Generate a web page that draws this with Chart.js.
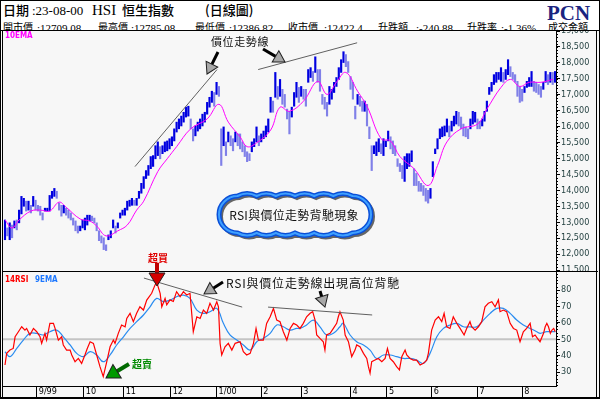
<!DOCTYPE html>
<html>
<head>
<meta charset="utf-8">
<script src="https://cdn.jsdelivr.net/npm/chart.js@4.4.0/dist/chart.umd.min.js"></script>
<style>
  body { margin: 0; background: #f7f7f7; }
  #wrap { position: relative; width: 600px; height: 399px; overflow: hidden; background: #f7f7f7; }
  #wrap canvas { position: absolute; left: 0; top: 0; }
  #priceChart { z-index: 1; }
  #rsiChart { z-index: 2; }
  #header { position: absolute; left: 0; top: 0; width: 600px; height: 30px; background: #fff;
            border-bottom: 1px solid #000; overflow: hidden; z-index: 3; }
  #header span { position: absolute; white-space: pre; color: #000; }
  .t1 { top: 2px; font: 500 13px "Noto Sans CJK TC"; line-height: 16px; }
  .n1 { top: 3px; font: 13px "Liberation Serif"; line-height: 16px; }
  .h1 { top: 2px; font: 15px "Liberation Serif"; line-height: 16px; }
  .t2 { top: 20px; font: 10px "Noto Sans CJK TC"; line-height: 14px; }
  .n2 { top: 21px; font: 11px "Liberation Serif"; line-height: 14px; }
  #pcn { top: 1px; left: 547px; font: bold 21px "Liberation Serif"; color: #1a2480 !important; line-height: 24px; }
  #frame { position: absolute; left: 0; top: 0; width: 600px; height: 399px; box-sizing: border-box;
           border: 1px solid #000; z-index: 4; pointer-events: none; }
</style>
</head>
<body>
<div id="wrap">
  <canvas id="priceChart" width="600" height="399"></canvas>
  <canvas id="rsiChart" width="600" height="399"></canvas>
  <div id="header">
    <span class="t1" style="left:3px">日期</span><span class="n1" style="left:32px">:23-08-00</span>
    <span class="h1" style="left:92px">HSI</span><span class="t1" style="left:122px">恒生指數</span>
    <span class="t1" style="left:205px">(日線圖)</span>
    <span class="t2" style="left:3px">開市價</span><span class="n2" style="left:37px">:12709.08</span>
    <span class="t2" style="left:98px">最高價</span><span class="n2" style="left:131px">:12785.08</span>
    <span class="t2" style="left:195px">最低價</span><span class="n2" style="left:229px">:12386.82</span>
    <span class="t2" style="left:288px">收市價</span><span class="n2" style="left:324px">:12422.4</span>
    <span class="t2" style="left:378px">升跌額</span><span class="n2" style="left:416px">:-240.88</span>
    <span class="t2" style="left:467px">升跌率</span><span class="n2" style="left:501px">:-1.36%</span>
    <span class="t2" style="left:548px">成交金額</span>
    <span id="pcn">PCN</span>
  </div>
  <div id="frame"></div>
</div>
<script>
// 每日最高 / 最低 (恒生指數)
const highs = [13070,12820,12980,12910,13040,13070,13380,13810,13750,13660,13660,13530,13810,13690,13530,13500,13290,13440,13440,13840,
  13970,14060,13970,13600,13530,13530,13440,13380,13290,13130,13040,12880,12880,13070,13130,13220,13220,13190,13130,12980,
  12730,12570,12510,12290,12600,12730,13070,12880,12980,13290,13380,13440,13660,13690,13750,13690,13750,13970,14220,14430,
  14620,14780,15060,15090,15400,15520,15370,15400,15520,15550,15620,15680,15930,16140,16240,16330,16450,16610,16640,16240,
  15930,16020,16140,16240,16390,16450,16760,16920,17110,17070,17390,17260,15930,15990,15520,15830,15710,15620,15830,15770,
  15770,15520,15400,15210,15150,15520,15620,15990,15710,15770,15860,16020,16240,16920,16800,17700,17260,17480,17170,17010,
  16550,16480,16610,17070,17390,17230,17260,17170,17170,17790,17850,17730,18190,17790,17790,17010,16920,16760,17260,17170,
  17390,17540,17850,18100,18350,18260,18040,17570,17390,16640,17010,16950,16800,16800,16700,15990,15400,15400,15520,15620,
  15460,15620,15550,15860,15680,15550,15400,14990,14840,14780,15060,15150,15150,15240,14680,14530,14280,14220,14150,14060,
  14000,14060,14900,15300,15620,15930,15990,16020,16240,16020,16170,16330,16480,16450,16300,16080,15990,15930,16240,16480,
  16450,16240,16170,16240,16480,16800,17230,17390,17630,17700,17700,17850,17700,17790,18100,17880,17700,17630,17420,17260,
  17170,17260,17420,17540,17730,17420,17390,17320,17260,17390,17730,17630,17700,17700,17730];
const lows = [12450,12570,12450,12510,12820,12760,12980,13260,13500,13350,13380,13290,13500,13380,13350,13220,13070,13350,13350,13350,
  13750,13810,13750,13380,13190,13290,13220,13130,13070,12910,12730,12660,12730,12820,12760,12910,13040,13040,12980,12730,
  12420,12350,12140,12110,12450,12510,12820,12660,12820,13130,13220,13220,13380,13500,13530,13530,13530,13750,13910,14060,
  14370,14470,14680,14750,14990,15090,14990,15150,15210,15240,15300,15400,15550,15830,15930,16020,16140,16300,16330,15930,
  15550,15710,15860,15930,16020,16140,16390,16610,16760,16640,17010,16950,14780,15400,15090,15520,15400,15240,15520,15400,
  15300,15210,15060,14900,14930,15210,15370,15520,15400,15520,15620,15680,15830,16450,16450,16920,16860,16950,16700,16610,
  16240,15770,16300,16640,16920,16760,16950,16860,16640,17390,17540,17420,17700,17390,17110,16700,16550,16330,16700,16860,
  17070,17260,17480,17700,18010,17880,17700,17170,16860,16240,16700,16640,16480,16480,16020,15620,14620,15150,15090,15210,
  15150,15090,15370,15550,15300,15150,15090,14750,14590,14370,14280,14680,14750,14900,14150,14150,13970,13970,13840,13660,
  13600,13750,14430,15150,15300,15620,15680,15710,15830,15680,15860,16020,16080,16020,15930,15710,15680,15620,15930,16080,
  16140,15930,15930,16020,16170,16480,17010,17110,17320,17390,17480,17420,17390,17480,17630,17570,17480,17390,16950,16760,
  16800,17070,17230,17260,17260,17110,17070,17010,16920,17170,17390,17320,17390,17320,17390];

// 10EMA (交易日序號, 指數)
const emaDay = [0,3,6,11,15,19,23,26,32,36,39,43,48,52,56,59,65,69,73,79,86,91,95,100,103,107,113,117,121,127,133,137,141,145,150,154,160,164,168,174,180,184,188,194,201,205,211,215,219,223,228,233];
const emaVal = [13070,12820,13070,13350,13380,13350,13630,13470,13100,13040,12880,12570,12730,12910,13380,13660,14590,14990,15370,15930,16240,16700,16140,15680,15370,15490,15890,16610,16480,16800,17420,17010,17390,17700,17110,16640,15620,15550,15060,14680,14150,14780,15520,15930,16080,16550,17230,17480,17260,17390,17390,17480];

// 14RSI
const rsiDay = [0,0.7,2.1,3.5,4.3,5.7,7.1,8.5,9.2,10.6,12.1,13.5,14.9,15.6,17,17.7,19.1,20.6,21.3,22.7,24.1,24.8,26.2,27.7,28.4,29.8,31.2,32.6,34,35,
  36.2,37.6,39,40.4,41.8,43.3,44.7,46.1,46.8,48.2,49.6,51.1,51.8,53.2,54.6,56,57.4,58.9,60.3,62.4,63.8,64.5,66,66.7,68.1,68.8,70.2,71.6,73,74.5,
  75.9,77.3,78.7,80.1,81.6,83,84.4,85.8,87.2,88.7,90.1,90.8,91.5,92.2,93.6,95,96.5,97.9,100,101.4,102.8,104.3,105.7,106.8,107.8,109.9,111.3,112.8,114.2,115.6,
  117,118.4,119.9,121.3,122.7,124.1,125.5,126.9,128.3,129.8,130.9,131.9,132.6,134,135.4,136.1,136.8,138.3,139.7,141.1,141.8,142.5,143.9,144.7,146.1,147.5,
  148.9,149.6,151,152.5,153.9,154.6,155.3,156,157.4,158.8,160.3,161.7,162.7,163.8,165.2,166.6,167.8,168.8,170.2,170.9,172.3,173.7,175.1,176.6,178,179.4,
  180.1,181.5,183,184.4,185.8,186.8,187.9,189.3,190.7,192.2,193.6,195.3,196.4,197.8,198.5,200,201.4,202.8,204.2,205.6,207.1,208.5,209.9,210.6,212,213.4,
  214.9,216.3,217.7,219.1,220.5,221.9,223.4,224.4,225.5,226.5,227.6,229.1,229.8,230.5,231.2,232,232.7,233.4,234.1];
const rsiVal = [34.3,41.4,43.4,44.4,51.5,54.6,57.6,55.6,56.6,52.6,56.6,54.6,51.5,47.5,53.6,49.5,59.7,59.7,56.6,49.5,51.5,46.5,43.4,43.4,40.4,36.3,38.3,35.3,40.4,44.4,
  48.5,47.5,40.4,33.3,27.2,36.3,45.4,49.5,47.5,53.6,58.7,57.6,62.7,65.8,60.7,65.8,69.8,67.8,73.9,78,83,85,78,69.8,74.9,71,74,73,79,76,
  79,77,78,54.6,63.7,62.7,67.8,65.8,71.9,67.8,72.9,69.8,47.5,40.4,45.4,47.5,43.4,47.5,48.5,42.4,40.4,41.4,47.5,56.6,49.5,49.5,59.7,63.7,68.8,61.7,
  60.7,54.6,49.5,56.6,59.7,58.7,56.6,59.7,63.7,65.8,66.8,61.7,52.6,50.5,48.5,43.4,52.6,53.6,56.6,59.7,63.7,66.8,61.7,52.6,48.5,39.4,
  43.4,46.5,45.4,41.4,38.3,33.3,29.3,36.3,37.3,38.3,36.3,38.3,44.4,38.3,36.3,33.3,31.3,39.4,43.4,40.4,38.3,37.3,37.3,34.3,35.3,37.3,
  41.4,55.6,61.7,63.7,60.7,65.8,57.6,56.6,63.7,59.7,56.6,52.6,56.6,60.7,57.6,55.6,57.6,60.7,69.8,71.9,72.9,69.8,74,66.8,67.8,66.8,
  59.7,56.6,55.6,48.5,54.6,56.6,59.7,51.5,52.6,50.5,48.5,53.6,57.6,59.7,57.6,53.6,55.6,56.6,54.6];

// 9EMA of RSI
const sigDay = [0,2.1,5,7.8,10.6,13.5,16.3,19.1,22,24.8,27.7,30.5,33.3,36.2,39,41.8,44.7,47.5,50.4,53.2,56,58.9,61.7,64.5,67.4,70.2,73,75.9,78.7,81.6,
  84.4,87.2,90.1,92.9,95.7,98.6,101.4,104.3,107.1,109.9,112.8,115.6,118.4,121.3,124.1,125.5,128.3,131.2,134,136.8,139.7,142.5,143.9,146.8,149.6,152.5,155.3,158.1,161,163.8,
  166.6,169.5,172.3,175.1,178,180.8,183.7,186.5,189.3,192.2,195,197.8,200.7,203.5,206.4,209.2,212,214.9,217.7,220.5,223.4,226.2,227.7,230.5,234.1];
const sigVal = [42.4,39.4,44.4,49.5,53.6,53.6,52.6,54.6,55.6,51.5,46.5,41.4,39.4,42.4,40.4,36.3,40.4,46.5,51.5,56.6,60.7,64.8,69.8,74.9,72.9,73.9,75.9,76.9,74.9,67.8,
  65.8,66.8,68.8,59.7,52.6,49.5,46.5,43.4,48.5,50.5,53.6,58.7,57.6,55.6,56.6,56.6,58.7,61.7,57.6,52.6,53.6,57.6,59.7,52.6,48.5,46.5,43.4,38.3,40.4,40.4,
  39.4,38.3,38.3,37.3,35.3,41.4,51.5,56.6,58.7,59.7,57.6,57.6,57.6,61.7,65.8,68.8,68.8,65.8,61.7,58.7,56.6,54.6,53.6,54.6,54.6];

// 月份刻度
const monthDay = [13.5,33.5,50.5,70.5,90,109,126,147,162.5,181.5,201,220];
const monthLabels = ['9/99','10','11','12','1/00','2','3','4','5','6','7','8'];

// 走勢線 (交易日序號, 值)
const priceTrend1 = [[55.3,14745],[90.2,17790]];
const priceTrend2 = [[107.7,17790],[149.8,18630]];
const rsiTrend1 = [[59.1,87.3],[100.9,69.6]];
const rsiTrend2 = [[111.9,69.6],[156.2,64.8]];

const BG = '#f7f7f7';
const AXIS_FONT = {family: '"Liberation Sans Narrow", "DejaVu Sans Condensed", sans-serif', size: 9};

function blockArrow(ctx, tx, ty, hx, hy, shaftColor, headColor, shaftW, headW, headL) {
  const ang = Math.atan2(hy - ty, hx - tx);
  const len = Math.hypot(hx - tx, hy - ty);
  ctx.save();
  ctx.translate(tx, ty);
  ctx.rotate(ang);
  ctx.fillStyle = shaftColor;
  ctx.fillRect(0, -shaftW / 2, len - headL + 1, shaftW);
  ctx.beginPath();
  ctx.moveTo(len - headL, -headW / 2);
  ctx.lineTo(len, 0);
  ctx.lineTo(len - headL, headW / 2);
  ctx.closePath();
  ctx.fillStyle = headColor;
  ctx.fill();
  ctx.strokeStyle = '#202020';
  ctx.lineWidth = 1;
  ctx.stroke();
  ctx.restore();
}

function trendLine(ctx, xs, ys, pts, color) {
  ctx.beginPath();
  ctx.moveTo(xs.getPixelForValue(pts[0][0]), ys.getPixelForValue(pts[0][1]));
  ctx.lineTo(xs.getPixelForValue(pts[1][0]), ys.getPixelForValue(pts[1][1]));
  ctx.strokeStyle = color;
  ctx.lineWidth = 1;
  ctx.stroke();
}

function cloudPath(ctx, x0, y0, x1, y1, n) {
  const r = (y1 - y0) / 2, cy = (y0 + y1) / 2;
  const w = (x1 - x0 - 2 * r) / n;
  ctx.beginPath();
  ctx.moveTo(x0 + r, y0);
  for (let i = 0; i < n; i++) ctx.quadraticCurveTo(x0 + r + w * (i + 0.5), y0 - 5, x0 + r + w * (i + 1), y0);
  ctx.arc(x1 - r, cy, r, -Math.PI / 2, Math.PI / 2);
  for (let i = n; i > 0; i--) ctx.quadraticCurveTo(x0 + r + w * (i - 0.5), y1 + 5, x0 + r + w * (i - 1), y1);
  ctx.arc(x0 + r, cy, r, Math.PI / 2, Math.PI * 1.5);
  ctx.closePath();
}

// 副刻度
const minorTicks = {
  id: 'minorTicks',
  afterDraw(chart, args, opts) {
    const s = chart.scales.y, ctx = chart.ctx;
    ctx.save();
    ctx.strokeStyle = '#000';
    ctx.lineWidth = 1;
    for (let v = opts.from; v <= s.max; v += opts.step) {
      const y = Math.round(s.getPixelForValue(v)) + 0.5;
      ctx.beginPath();
      ctx.moveTo(s.left, y);
      ctx.lineTo(s.left + 2, y);
      ctx.stroke();
    }
    ctx.restore();
  }
};

const priceNotes = {
  id: 'priceNotes',
  afterDatasetsDraw(chart) {
    const {ctx, scales: {x, y}} = chart;
    ctx.save();
    ctx.fillStyle = '#ff00ff';
    ctx.font = 'bold 8px "DejaVu Sans Condensed"';
    ctx.textBaseline = 'top';
    ctx.fillText('10EMA', 5, 32);

    trendLine(ctx, x, y, priceTrend1, '#606060');
    trendLine(ctx, x, y, priceTrend2, '#606060');
    blockArrow(ctx, 218, 52, 207, 74, '#000', '#a8a8a8', 3, 13, 11);
    blockArrow(ctx, 263, 49, 285, 62, '#000', '#a8a8a8', 3, 13, 11);

    ctx.fillStyle = '#101010';
    ctx.font = '11px "Noto Sans CJK TC"';
    ctx.letterSpacing = '0.6px';
    ctx.textBaseline = 'middle';
    ctx.fillText('價位走勢線', 211, 42);

    // 背馳說明框
    cloudPath(ctx, 219, 196, 371, 233, 6);
    ctx.fillStyle = BG;
    ctx.fill();
    ctx.save();
    ctx.translate(2, 2);
    cloudPath(ctx, 219, 196, 371, 233, 6);
    ctx.strokeStyle = 'rgba(40,40,40,0.7)';
    ctx.lineWidth = 4;
    ctx.stroke();
    ctx.restore();
    cloudPath(ctx, 219, 196, 371, 233, 6);
    ctx.strokeStyle = '#0a4fd8';
    ctx.lineWidth = 5;
    ctx.stroke();
    ctx.strokeStyle = '#3ea0ff';
    ctx.lineWidth = 2;
    ctx.stroke();
    ctx.fillStyle = '#101010';
    ctx.font = '12px "Noto Sans CJK TC"';
    ctx.letterSpacing = '0.3px';
    ctx.textAlign = 'center';
    ctx.fillText('RSI與價位走勢背馳現象', 294, 215);
    ctx.restore();
  }
};

const rsiNotes = {
  id: 'rsiNotes',
  beforeDraw(chart) {
    const ctx = chart.ctx;
    ctx.save();
    ctx.fillStyle = BG;
    ctx.fillRect(0, 272, 600, 127);
    ctx.restore();
  },
  beforeDatasetsDraw(chart) {
    const {ctx, chartArea: a, scales: {y}} = chart;
    const y50 = y.getPixelForValue(50);
    ctx.save();
    ctx.strokeStyle = '#c4c4c4';
    ctx.lineWidth = 2;
    ctx.beginPath();
    ctx.moveTo(a.left, y50);
    ctx.lineTo(a.right, y50);
    ctx.stroke();
    ctx.restore();
  },
  afterDraw(chart) {
    const {ctx, scales: {x, y}} = chart;
    ctx.save();
    // 框線
    ctx.strokeStyle = '#000';
    ctx.lineWidth = 1;
    ctx.beginPath();
    ctx.moveTo(2, 271.5); ctx.lineTo(598, 271.5);
    ctx.moveTo(2.5, 30); ctx.lineTo(2.5, 397);
    ctx.moveTo(596.5, 30); ctx.lineTo(596.5, 397);
    ctx.moveTo(0, 397.5); ctx.lineTo(600, 397.5);
    ctx.stroke();

    ctx.textBaseline = 'top';
    ctx.font = 'bold 8px "DejaVu Sans Condensed"';
    ctx.fillStyle = '#ff0000';
    ctx.fillText('14RSI', 5, 276);
    ctx.fillStyle = '#1e78ff';
    ctx.fillText('9EMA', 35, 276);

    trendLine(ctx, x, y, rsiTrend1, '#606060');
    trendLine(ctx, x, y, rsiTrend2, '#606060');
    blockArrow(ctx, 223, 282, 204, 294, '#000', '#a8a8a8', 3, 13, 11);
    blockArrow(ctx, 320, 291, 325, 307, '#000', '#a8a8a8', 3, 13, 11);

    ctx.fillStyle = '#101010';
    ctx.font = '12px "Noto Sans CJK TC"';
    ctx.letterSpacing = '0.8px';
    ctx.textBaseline = 'middle';
    ctx.fillText('RSI與價位走勢線出現高位背馳', 226, 283);

    ctx.letterSpacing = '0px';
    ctx.font = 'bold 10px "Noto Sans CJK TC"';
    ctx.fillStyle = '#e00000';
    ctx.fillText('超買', 148, 258);
    blockArrow(ctx, 157, 263, 157, 286, '#c00000', '#d40000', 4, 16, 13);
    ctx.fillStyle = '#008a00';
    ctx.fillText('超賣', 132, 364);
    blockArrow(ctx, 129, 364, 106, 378, '#006a00', '#009a00', 4, 16, 13);
    ctx.restore();
  }
};

const barColors = highs.map((h, i) => {
  if (i === 0) return '#0000e0';
  return (h + lows[i]) >= (highs[i - 1] + lows[i - 1]) ? '#0000e0' : '#8080e8';
});

new Chart(document.getElementById('priceChart'), {
  type: 'bar',
  data: {
    datasets: [
      {
        type: 'line',
        data: emaDay.map((d, i) => ({x: d, y: emaVal[i]})),
        borderColor: '#ff00ff',
        borderWidth: 1,
        pointRadius: 0,
        tension: 0.4,
        order: 0
      },
      {
        type: 'bar',
        data: highs.map((h, i) => ({x: i, y: [lows[i], h]})),
        backgroundColor: barColors,
        barThickness: 1.5,
        order: 1
      }
    ]
  },
  options: {
    responsive: false,
    animation: false,
    devicePixelRatio: 1,
    layout: {padding: {left: 3, top: 31, right: 0, bottom: 129}},
    plugins: {
      legend: {display: false},
      tooltip: {enabled: false},
      minorTicks: {from: 11500, step: 100}
    },
    scales: {
      x: {type: 'linear', display: false, offset: false, min: -0.85, max: 234.4},
      y: {
        position: 'right',
        min: 11500,
        max: 19000,
        afterFit: s => { s.width = 44; },
        ticks: {
          stepSize: 500,
          autoSkip: false,
          padding: 1,
          color: '#1e3c3c',
          font: AXIS_FONT,
          callback: v => v.toLocaleString('en-US')
        },
        grid: {drawOnChartArea: false, tickLength: 4, color: '#000'},
        border: {color: '#000'}
      }
    }
  },
  plugins: [minorTicks, priceNotes]
});

new Chart(document.getElementById('rsiChart'), {
  type: 'line',
  data: {
    datasets: [
      {
        data: rsiDay.map((d, i) => ({x: d, y: rsiVal[i]})),
        borderColor: '#ff0000',
        borderWidth: 1.2,
        pointRadius: 0,
        tension: 0,
        order: 0
      },
      {
        data: sigDay.map((d, i) => ({x: d, y: sigVal[i]})),
        borderColor: '#2a8cf0',
        borderWidth: 1.2,
        pointRadius: 0,
        tension: 0.4,
        order: 1
      }
    ]
  },
  options: {
    responsive: false,
    animation: false,
    devicePixelRatio: 1,
    layout: {padding: {left: 3, top: 272, right: 0, bottom: 1}},
    plugins: {
      legend: {display: false},
      tooltip: {enabled: false},
      minorTicks: {from: 22, step: 2}
    },
    scales: {
      x: {
        type: 'linear',
        offset: false,
        min: -0.85,
        max: 234.4,
        afterBuildTicks: s => { s.ticks = monthDay.map(v => ({value: v})); },
        afterFit: s => { s.height = 12; },
        ticks: {
          autoSkip: false,
          maxRotation: 0,
          align: 'start',
          labelOffset: 2,
          padding: -11,
          color: '#000',
          font: AXIS_FONT,
          callback: (v, i) => monthLabels[i]
        },
        grid: {drawOnChartArea: false, tickLength: 11, color: '#000'},
        border: {color: '#000'}
      },
      y: {
        position: 'right',
        min: 21.5,
        max: 91,
        afterFit: s => { s.width = 44; },
        ticks: {
          stepSize: 10,
          autoSkip: false,
          padding: 1,
          color: '#1e3c3c',
          font: AXIS_FONT,
          callback: v => (v >= 30 && v <= 80 && v % 10 === 0) ? v : ''
        },
        grid: {
          drawOnChartArea: false,
          tickLength: 4,
          color: '#000',
          tickColor: c => (c.tick && c.tick.value % 10 === 0) ? '#000' : 'rgba(0,0,0,0)'
        },
        border: {color: '#000'}
      }
    }
  },
  plugins: [minorTicks, rsiNotes]
});
</script>
</body>
</html>
